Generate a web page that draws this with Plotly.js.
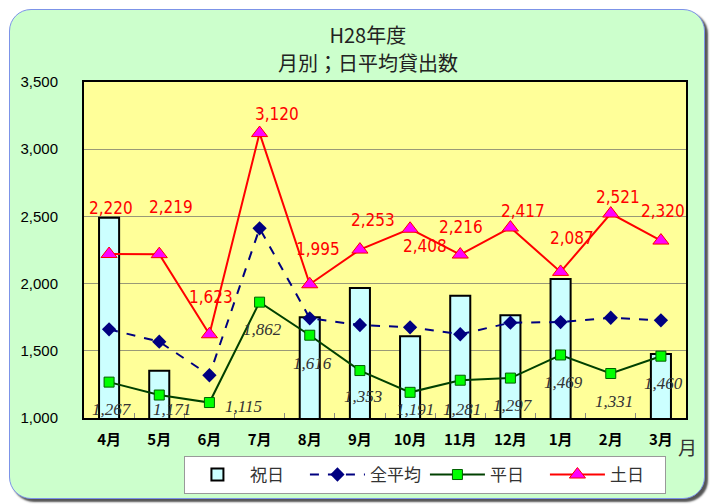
<!DOCTYPE html>
<html><head><meta charset="utf-8">
<script src="https://cdn.plot.ly/plotly-3.0.1.min.js"></script>
<style>
html,body{margin:0;padding:0;background:#fff;}
#frame{position:absolute;left:9px;top:9px;width:694px;height:488px;background:#CCFFCC;border:1px solid #7C93E8;border-radius:22px;box-shadow:3px 3px 2px #555;}
#chart{position:absolute;left:0;top:0;width:710px;height:504px;}
</style></head>
<body>
<div id="frame"></div>
<div id="chart"></div>
<script>
const months = ['4月','5月','6月','7月','8月','9月','10月','11月','12月','1月','2月','3月'];
const holiday = [2490, 1352, null, null, 1749, 1967, 1608, 1910, 1764, 2034, null, 1476];
const allAvg = [1660, 1568, 1318, 2411, 1742, 1692, 1675, 1623, 1709, 1714, 1746, 1727];
const weekday = [1267, 1171, 1115, 1862, 1616, 1353, 1191, 1281, 1297, 1469, 1331, 1460];
const weekend = [2220, 2219, 1623, 3120, 1995, 2253, 2408, 2216, 2417, 2087, 2521, 2320];

// label offsets in pixels (styling only)
const weekendShift = [[2,46],[12,47],[2,37],[17,19],[8,35],[13,30],[15,-17],[1,28],[13,17],[11,34],[7,17],[2,30]];
const weekdayShift = [[3,-27],[13,-14],[34,-4],[3,-27],[3,-28],[3,-26],[5,-17],[2,-29],[3,-27],[3,-28],[3,-28],[3,-27]];

const fmt = v => v.toLocaleString('en-US');

const traces = [
  {type:'bar', name:'祝日', x:months, y:holiday, width:0.4,
   marker:{color:'#CCFFFF', line:{color:'#000000', width:2}}},
  {type:'scatter', mode:'lines+markers', name:'全平均', x:months, y:allAvg,
   line:{color:'#000080', width:2, dash:'dash'},
   marker:{symbol:'diamond', size:11, color:'#000080'}},
  {type:'scatter', mode:'lines+markers', name:'平日', x:months, y:weekday,
   line:{color:'#004000', width:2},
   marker:{symbol:'square', size:10, color:'#00FF00', line:{color:'#006000', width:1}}},
  {type:'scatter', mode:'lines+markers', name:'土日', x:months, y:weekend,
   line:{color:'#FF0000', width:2},
   marker:{symbol:'triangle-up', size:14, color:'#FF00FF', line:{color:'#FF0000', width:1}}}
];

const annotations = [];
weekend.forEach((v,i)=>annotations.push({x:months[i], y:v, text:fmt(v), showarrow:false,
  xshift:weekendShift[i][0], yshift:weekendShift[i][1],
  font:{family:'DejaVu Sans Condensed, Liberation Sans Narrow, Arial', size:17, color:'#FF0000'}}));
weekday.forEach((v,i)=>annotations.push({x:months[i], y:v, text:fmt(v), showarrow:false,
  xshift:weekdayShift[i][0], yshift:weekdayShift[i][1],
  font:{family:'Liberation Serif, DejaVu Serif, serif', size:17, color:'#333333', style:'italic'}}));
annotations.push({xref:'paper', yref:'paper', x:1.003, y:-0.086, xanchor:'center', yanchor:'middle', showarrow:false,
  text:'月', font:{family:'Noto Sans CJK JP', size:19, color:'#333333'}});
annotations.push({xref:'paper', yref:'paper', x:0.472, y:1.058, xanchor:'center', yanchor:'middle', showarrow:false,
  text:'月別；日平均貸出数', font:{family:'Noto Sans CJK JP', size:20, color:'#222222'}});

const layout = {
  width:710, height:504,
  margin:{l:84, r:24, t:82, b:86, autoexpand:false},
  paper_bgcolor:'rgba(0,0,0,0)', plot_bgcolor:'#FFFF99',
  title:{text:'H28年度', x:0.518, xanchor:'center', y:0.928, yanchor:'middle',
    font:{family:'Noto Sans CJK JP', size:20, color:'#222222'}},
  showlegend:true,
  legend:{orientation:'h', x:0.166, xanchor:'left', y:-0.113, yanchor:'top',
    bgcolor:'#FFFFFF', bordercolor:'#999999', borderwidth:1,
    font:{family:'Noto Sans CJK JP', size:17, color:'#333333'}, itemwidth:55, entrywidth:50, traceorder:'normal'},
  xaxis:{type:'category', range:[-0.5, 11.5], automargin:false, showline:true, linecolor:'#000000', linewidth:2, mirror:true,
    ticks:'inside', tickson:'boundaries', ticklen:5, tickcolor:'#888888',
    tickfont:{family:'Noto Sans CJK JP', size:15, color:'#000000', weight:'bold'},
    ticklabelstandoff:7},
  yaxis:{range:[1000,3500], dtick:500, tickformat:',d', automargin:false, showline:true, linecolor:'#000000', linewidth:2, mirror:true,
    gridcolor:'#999977', gridwidth:1, zeroline:false, ticks:'',
    tickfont:{family:'Liberation Sans, Arial', size:15, color:'#000000'},
    ticklabelstandoff:21},
  bargap:0.6,
  annotations:annotations
};

Plotly.newPlot('chart', traces, layout, {displayModeBar:false, staticPlot:true});
</script>
</body></html>
